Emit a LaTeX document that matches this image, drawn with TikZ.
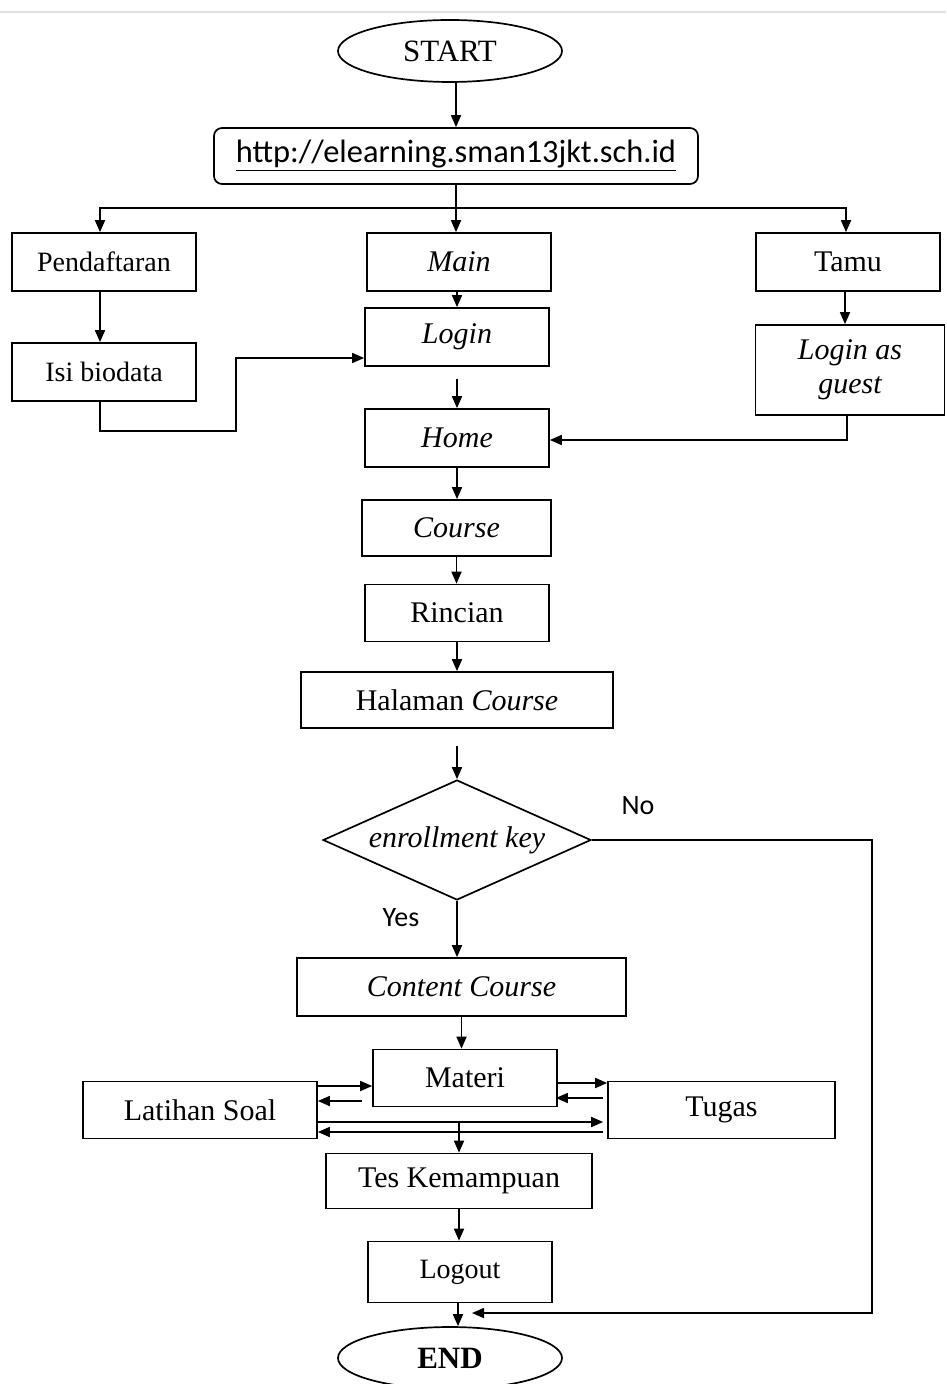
\documentclass[tikz,border=0pt]{standalone}
\usepackage{fontspec}
\setmainfont{Liberation Serif}
\newfontfamily\calibri{Carlito}
\usetikzlibrary{shapes.geometric,arrows.meta,calc}
\tikzset{
  box/.style={draw, line width=0.85pt, inner sep=0pt, font=\fontsize{15}{18}\selectfont, align=center},
  term/.style={draw, ellipse, line width=0.85pt, inner sep=0pt, minimum width=112pt, minimum height=31pt, font=\fontsize{15.5}{18}\selectfont},
  arr/.style={line width=0.85pt, -{Triangle[length=6pt,width=5pt]}},
  ln/.style={line width=0.85pt},
  lbl/.style={font=\calibri\fontsize{14}{16}\selectfont},
}
\begin{document}
\begin{tikzpicture}[x=0.5pt,y=-0.5pt]
\useasboundingbox (0,0) rectangle (946,1384);
\draw[gray!25, line width=0.6pt] (0,12) -- (946,12);
% nodes
\node[term] (start) at (450,51) {START};
\node[box, rounded corners=4pt, minimum width=242pt, minimum height=28pt, font=\calibri\fontsize{16.2}{18}\selectfont] (url) at (456,156) {\underline{http://elearning.sman13jkt.sch.id}};
\node[box, minimum width=92pt, minimum height=29pt, font=\fontsize{14}{16}\selectfont] (pend) at (104,262) {Pendaftaran};
\node[box, minimum width=92pt, minimum height=29pt, font=\fontsize{14}{16}\selectfont] (isi) at (104,372) {Isi biodata};
\node[box, minimum width=92pt, minimum height=29pt] (main) at (459,262) {\itshape Main};
\node[box, minimum width=92pt, minimum height=29pt] (login) at (457,337) {\itshape Login};
\node[box, minimum width=92pt, minimum height=29pt] (home) at (457,438) {\itshape Home};
\node[box, minimum width=92pt, minimum height=29pt] (tamu) at (848,262) {Tamu};
\node[box, minimum width=94.5pt, minimum height=45pt] (guest) at (850,370) {\itshape Login as\\[-1pt]\itshape guest};
\node[box, minimum width=94.5pt, minimum height=28pt] (course) at (456.5,528) {\itshape Course};
\node[box, minimum width=92pt, minimum height=28.5pt] (rincian) at (457,613) {Rincian};
\node[box, minimum width=156pt, minimum height=28pt] (halaman) at (457,700) {Halaman \textit{Course}};
\node[draw, diamond, line width=0.85pt, inner sep=0pt, minimum width=134pt, minimum height=60pt, shape aspect=2.2, font=\fontsize{15}{18}\selectfont] (key) at (457,840) {\itshape enrollment key};
\node[box, minimum width=164.5pt, minimum height=29pt] (content) at (461.5,987) {\itshape Content Course};
\node[box, minimum width=92pt, minimum height=28.5pt] (materi) at (465,1078) {Materi};
\node[box, minimum width=117pt, minimum height=28.5pt] (latihan) at (200,1110) {Latihan Soal};
\node[box, minimum width=113.5pt, minimum height=28.5pt] (tugas) at (721.5,1110) {Tugas};
\node[box, minimum width=133pt, minimum height=27.5pt] (tes) at (459,1181) {Tes Kemampuan};
\node[box, minimum width=92pt, minimum height=30.5pt, font=\fontsize{14}{16}\selectfont] (logout) at (460,1272) {Logout};
\node[term] (end) at (450,1358) {\bfseries END};
\node[lbl] (no) at (638,806) {No};
\node[lbl] (yes) at (401,918) {Yes};
\coordinate (split) at (456,208);
\coordinate (noend) at (472,1313);
\coordinate (tesin) at (459,1122);
% connectors
\draw[arr] (start.south -| url.north) -- (url.north);
\draw[ln] (url.south) -- (split);
\draw[arr] (split) -- (split |- main.north);
\draw[arr] (split) -| ([xshift=-2pt]pend.north);
\draw[arr] (split) -| ([xshift=-1pt]tamu.north);
\draw[arr] ([xshift=-2pt]pend.south) -- ([xshift=-2pt]isi.north);
\draw[arr] ([xshift=-2pt]isi.south) |- (236,431) |- ([yshift=-10.5pt]login.west);
\draw[arr] (main.south -| login.north) -- (login.north);
\draw[arr] ([yshift=-6pt]login.south) -- (home.north);
\draw[arr] ([xshift=-1.5pt]tamu.south) -- ([xshift=-1.5pt]tamu.south |- guest.north);
\draw[arr] ([xshift=-1.5pt]guest.south) |- ([yshift=-1pt]home.east);
\draw[arr] (home.south) -- (home.south |- course.north);
\draw[arr] (course.south) -- (course.south |- rincian.north);
\draw[arr] (rincian.south) -- (halaman.north);
\draw[arr] ([yshift=-8.5pt]halaman.south) -- (key.north);
\draw[arr] (key.south) -- (key.south |- content.north);
\draw[arr] (key.east) -| (872,1313) -- (noend);
\draw[arr] (content.south) -- (content.south |- materi.north);
\draw[arr] ([yshift=12pt]latihan.east) -- ([yshift=12pt]latihan.east -| materi.west);
\draw[arr] ([yshift=4.5pt,xshift=22pt]latihan.east) -- ([yshift=4.5pt]latihan.east);
\draw[arr] ([yshift=-2.5pt]materi.east) -- ([yshift=-2.5pt]materi.east -| tugas.west);
\draw[arr] ([yshift=6pt,xshift=-2pt]tugas.west) -- ([yshift=6pt,xshift=-1pt]tugas.west -| materi.east);
\draw[arr] ([yshift=-6pt]latihan.east) -- ([yshift=-6pt,xshift=-2pt]latihan.east -| tugas.west);
\draw[arr] ([yshift=-11pt,xshift=-2pt]tugas.west) -- ([yshift=-11pt]tugas.west -| latihan.east);
\draw[arr] (tesin) -- (tes.north);
\draw[arr] (tes.south) -- (tes.south |- logout.north);
\draw[arr] ([xshift=-1pt]logout.south) -- ([xshift=-1pt]logout.south |- end.north);
\end{tikzpicture}
\end{document}
